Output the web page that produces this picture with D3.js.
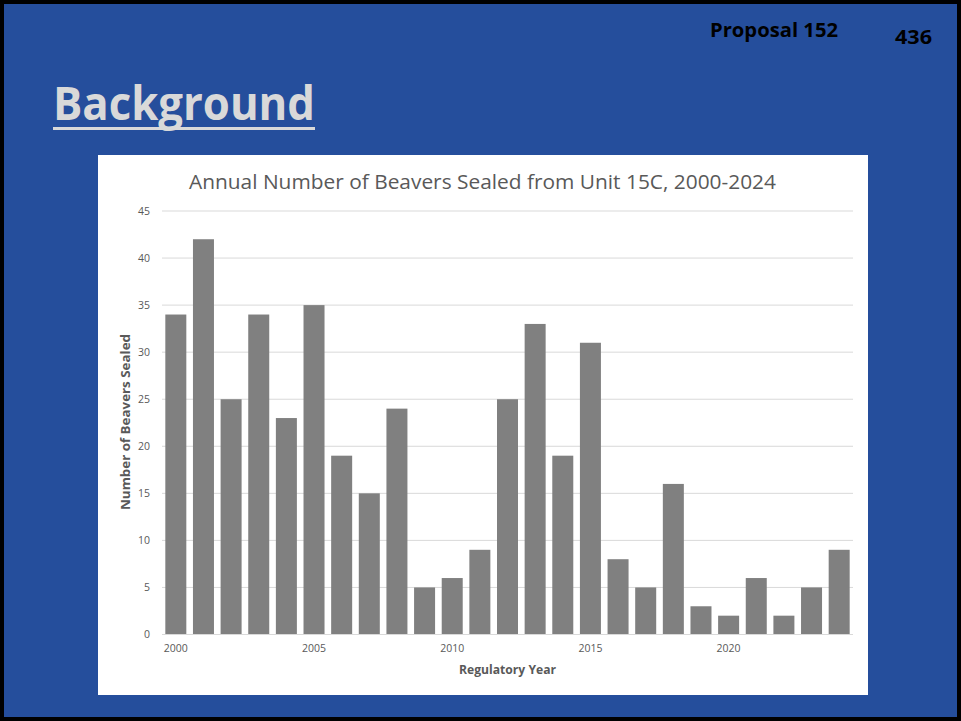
<!DOCTYPE html>
<html><head><meta charset="utf-8">
<script src="https://cdn.jsdelivr.net/npm/d3@7"></script>
<style>body{margin:0;background:#fff}svg{display:block}</style>
</head><body>
<script>
const years = d3.range(2000, 2025);
const beavers = [34,42,25,34,23,35,19,15,24,5,6,9,25,33,19,31,8,5,16,3,2,6,2,5,9];
const yTicks = [0,5,10,15,20,25,30,35,40,45];
const xTickLabels = [2000,2005,2010,2015,2020];
const chartTitle = "Annual Number of Beavers Sealed from Unit 15C, 2000-2024";

const W = 961, H = 721;
const svg = d3.select("body").append("svg").attr("width", W).attr("height", H);
svg.append("rect").attr("x",0).attr("y",0).attr("width",W).attr("height",H).attr("fill","#000");
svg.append("rect").attr("x",4).attr("y",4).attr("width",W-8).attr("height",H-8).attr("fill","#254e9c");

const hdrFont = "Open Sans, sans-serif";
svg.append("text").attr("x",710).attr("y",37)
  .attr("font-family",hdrFont).attr("font-weight","bold")
  .attr("font-size",19).attr("fill","#000").attr("textLength",128).attr("lengthAdjust","spacingAndGlyphs").text("Proposal 152");
svg.append("text").attr("x",895).attr("y",44)
  .attr("font-family",hdrFont).attr("font-weight","bold")
  .attr("font-size",19).attr("fill","#000").attr("textLength",37).attr("lengthAdjust","spacingAndGlyphs").text("436");
svg.append("text").attr("x",53).attr("y",120)
  .attr("font-family",hdrFont).attr("font-weight","bold")
  .attr("font-size",46).attr("fill","#d9d9d9").attr("textLength",262).attr("lengthAdjust","spacingAndGlyphs").text("Background");
svg.append("rect").attr("x",53).attr("y",127).attr("width",262).attr("height",3).attr("fill","#d9d9d9");

// chart area
svg.append("rect").attr("x",98).attr("y",155).attr("width",770).attr("height",540).attr("fill","#fff");

const x = d3.scaleBand().domain(years).range([162, 853]).paddingInner(0.24).paddingOuter(0.12);
const y = d3.scaleLinear().domain([0,45]).range([634.5, 211]);

svg.append("g").selectAll("line").data(yTicks).join("line")
  .attr("x1",162).attr("x2",853).attr("y1",d=>y(d)).attr("y2",d=>y(d))
  .attr("stroke","#d9d9d9").attr("stroke-width",1);

svg.append("g").selectAll("rect").data(beavers).join("rect")
  .attr("x",(d,i)=>x(years[i])).attr("width",x.bandwidth())
  .attr("y",d=>y(d)).attr("height",d=>y(0)-y(d)).attr("fill","#808080");

svg.append("line").attr("x1",162).attr("x2",853).attr("y1",y(0)).attr("y2",y(0)).attr("stroke","#d9d9d9");

const yAxis = d3.axisLeft(y).tickValues(yTicks).tickSize(0).tickPadding(12);
const gy = svg.append("g").attr("transform","translate(162,0)").call(yAxis);
gy.select(".domain").remove();
gy.selectAll("text").attr("font-family","Open Sans, sans-serif").attr("font-size",10.5).attr("fill","#595959");

const xAxis = d3.axisBottom(x).tickValues(xTickLabels).tickSize(0).tickPadding(10);
const gx = svg.append("g").attr("transform",`translate(0,${y(0)})`).call(xAxis);
gx.select(".domain").remove();
gx.selectAll("text").attr("font-family","Open Sans, sans-serif").attr("font-size",10.5).attr("fill","#595959")
  .attr("textLength",24).attr("lengthAdjust","spacingAndGlyphs");

svg.append("text").attr("x",189).attr("y",189)
  .attr("font-family","Open Sans, sans-serif").attr("font-size",19.5).attr("fill","#595959")
  .attr("textLength",587).attr("lengthAdjust","spacingAndGlyphs").text(chartTitle);
svg.append("text").attr("x",459).attr("y",674)
  .attr("font-family","Open Sans, sans-serif").attr("font-weight","bold").attr("font-size",12).attr("fill","#595959")
  .attr("textLength",97).attr("lengthAdjust","spacingAndGlyphs").text("Regulatory Year");
svg.append("text").attr("transform","translate(130,510) rotate(-90)")
  .attr("font-family","Open Sans, sans-serif").attr("font-weight","bold").attr("font-size",12.5).attr("fill","#595959")
  .attr("textLength",176).attr("lengthAdjust","spacingAndGlyphs").text("Number of Beavers Sealed");
</script>
</body></html>
